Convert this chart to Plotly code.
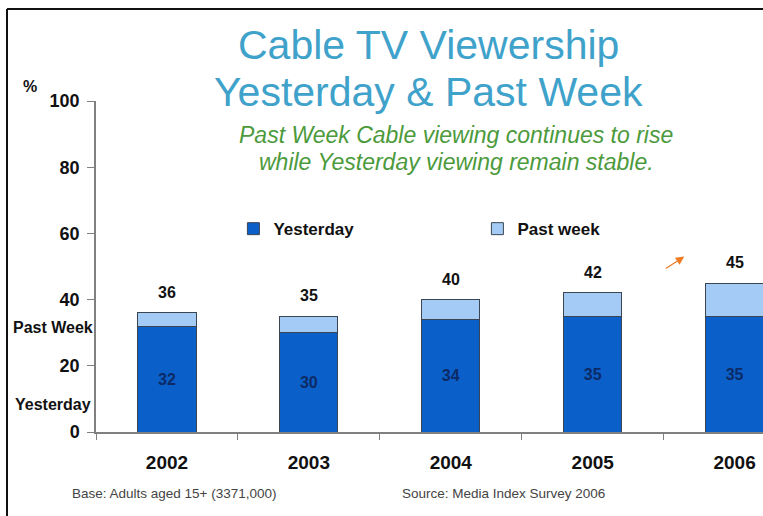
import plotly.graph_objects as go

# Survey years and viewing shares (%)
years = ["2002", "2003", "2004", "2005", "2006"]
yesterday = [32, 30, 34, 35, 35]
past_week = [36, 35, 40, 42, 45]

DARK_BLUE = "#0b5fc9"
LIGHT_BLUE = "#a3cbf5"
BAR_EDGE = "#3c4652"
FONT = "Liberation Sans"

# extra share only reached over the past week, stacked on yesterday's share
past_week_extra = [pw - y for pw, y in zip(past_week, yesterday)]

fig = go.Figure()
fig.add_trace(go.Bar(
    x=years, y=yesterday, name="Yesterday",
    marker=dict(color=DARK_BLUE, line=dict(color=BAR_EDGE, width=1)),
    text=[str(v) for v in yesterday], textposition="inside",
    insidetextanchor="middle", textangle=0,
    textfont=dict(family=FONT, size=16, color="#0c2a66", weight="bold"),
    width=0.41,
))
fig.add_trace(go.Bar(
    x=years, y=past_week_extra, name="Past week",
    marker=dict(color=LIGHT_BLUE, line=dict(color=BAR_EDGE, width=1)),
    width=0.41, hoverinfo="skip",
))


def note(x, y, text, size, color, xanchor="center", xref="paper", yref="paper"):
    return dict(x=x, y=y, xref=xref, yref=yref, text=text, showarrow=False,
                xanchor=xanchor, yanchor="middle",
                font=dict(family=FONT, size=size, color=color))


annotations = []
# totals above each stacked bar (category index on the x axis)
for i, tot in enumerate(past_week):
    annotations.append(dict(
        x=i, y=tot, xref="x", yref="y", text=f"<b>{tot}</b>",
        showarrow=False, yanchor="bottom", yshift=10,
        font=dict(family=FONT, size=16, color="#111111"),
    ))

annotations += [
    # titles
    note(0.498, 1.169, "Cable TV Viewership", 41, "#3fa2cb"),
    note(0.498, 1.027, "Yesterday &amp; Past Week", 41, "#3fa2cb"),
    note(0.54, 0.897, "<i>Past Week Cable viewing continues to rise</i>", 23, "#4c9a3c"),
    note(0.54, 0.816, "<i>while Yesterday viewing remain stable.</i>", 23, "#4c9a3c"),
    # axis side labels
    note(-0.099, 1.044, "<b>%</b>", 16, "#111111"),
    note(-0.002, 31.7, "<b>Past Week</b>", 16, "#111111", xanchor="right", yref="y"),
    note(-0.004, 8.2, "<b>Yesterday</b>", 16, "#111111", xanchor="right", yref="y"),
    # footnotes
    note(-0.039, -0.187, "Base: Adults aged 15+ (3371,000)", 13.5, "#444444", xanchor="left"),
    note(0.456, -0.187, "Source: Media Index Survey 2006", 13.5, "#444444", xanchor="left"),
    # small rising arrow
    dict(x=0.882, y=0.53, xref="paper", yref="paper", ax=-20, ay=13,
         text="", showarrow=True, arrowhead=2, arrowsize=1.4, arrowwidth=1.2,
         arrowcolor="#ee7a22", standoff=0),
]

fig.update_layout(
    width=763, height=516,
    margin=dict(l=96, r=0, t=101, b=84),
    paper_bgcolor="white", plot_bgcolor="white",
    barmode="stack",
    showlegend=True,
    legend=dict(
        orientation="h", traceorder="normal",
        x=0.206, y=0.613, xanchor="left", yanchor="middle",
        entrywidth=199, entrywidthmode="pixels", itemwidth=30,
        font=dict(family=FONT, size=17, color="#111111", weight="bold"),
        bgcolor="rgba(0,0,0,0)",
    ),
    xaxis=dict(
        type="category", range=[-0.5, 4.2], tickson="boundaries",
        ticks="outside", ticklen=6, tickcolor="#808080",
        showline=True, linecolor="#808080", linewidth=1.5,
        showgrid=False, ticklabelstandoff=12,
        tickfont=dict(family=FONT, size=19, color="#111111", weight="bold"),
    ),
    yaxis=dict(
        range=[0, 100], dtick=20, ticks="outside", ticklen=7,
        tickcolor="#808080", showline=True, linecolor="#808080", linewidth=1.5,
        showgrid=False, zeroline=False, ticklabelstandoff=4,
        tickfont=dict(family=FONT, size=18, color="#111111", weight="bold"),
    ),
    annotations=annotations,
    shapes=[
        # frame around the slide
        dict(type="line", xref="paper", yref="paper",
             x0=(7 - 96) / 667, x1=1.05, y0=(432 - 9) / 331, y1=(432 - 9) / 331,
             line=dict(color="#111111", width=2)),
        dict(type="line", xref="paper", yref="paper",
             x0=(7 - 96) / 667, x1=(7 - 96) / 667, y0=(432 - 9) / 331, y1=-0.3,
             line=dict(color="#111111", width=2)),
    ],
)

fig.write_html("out.html")
